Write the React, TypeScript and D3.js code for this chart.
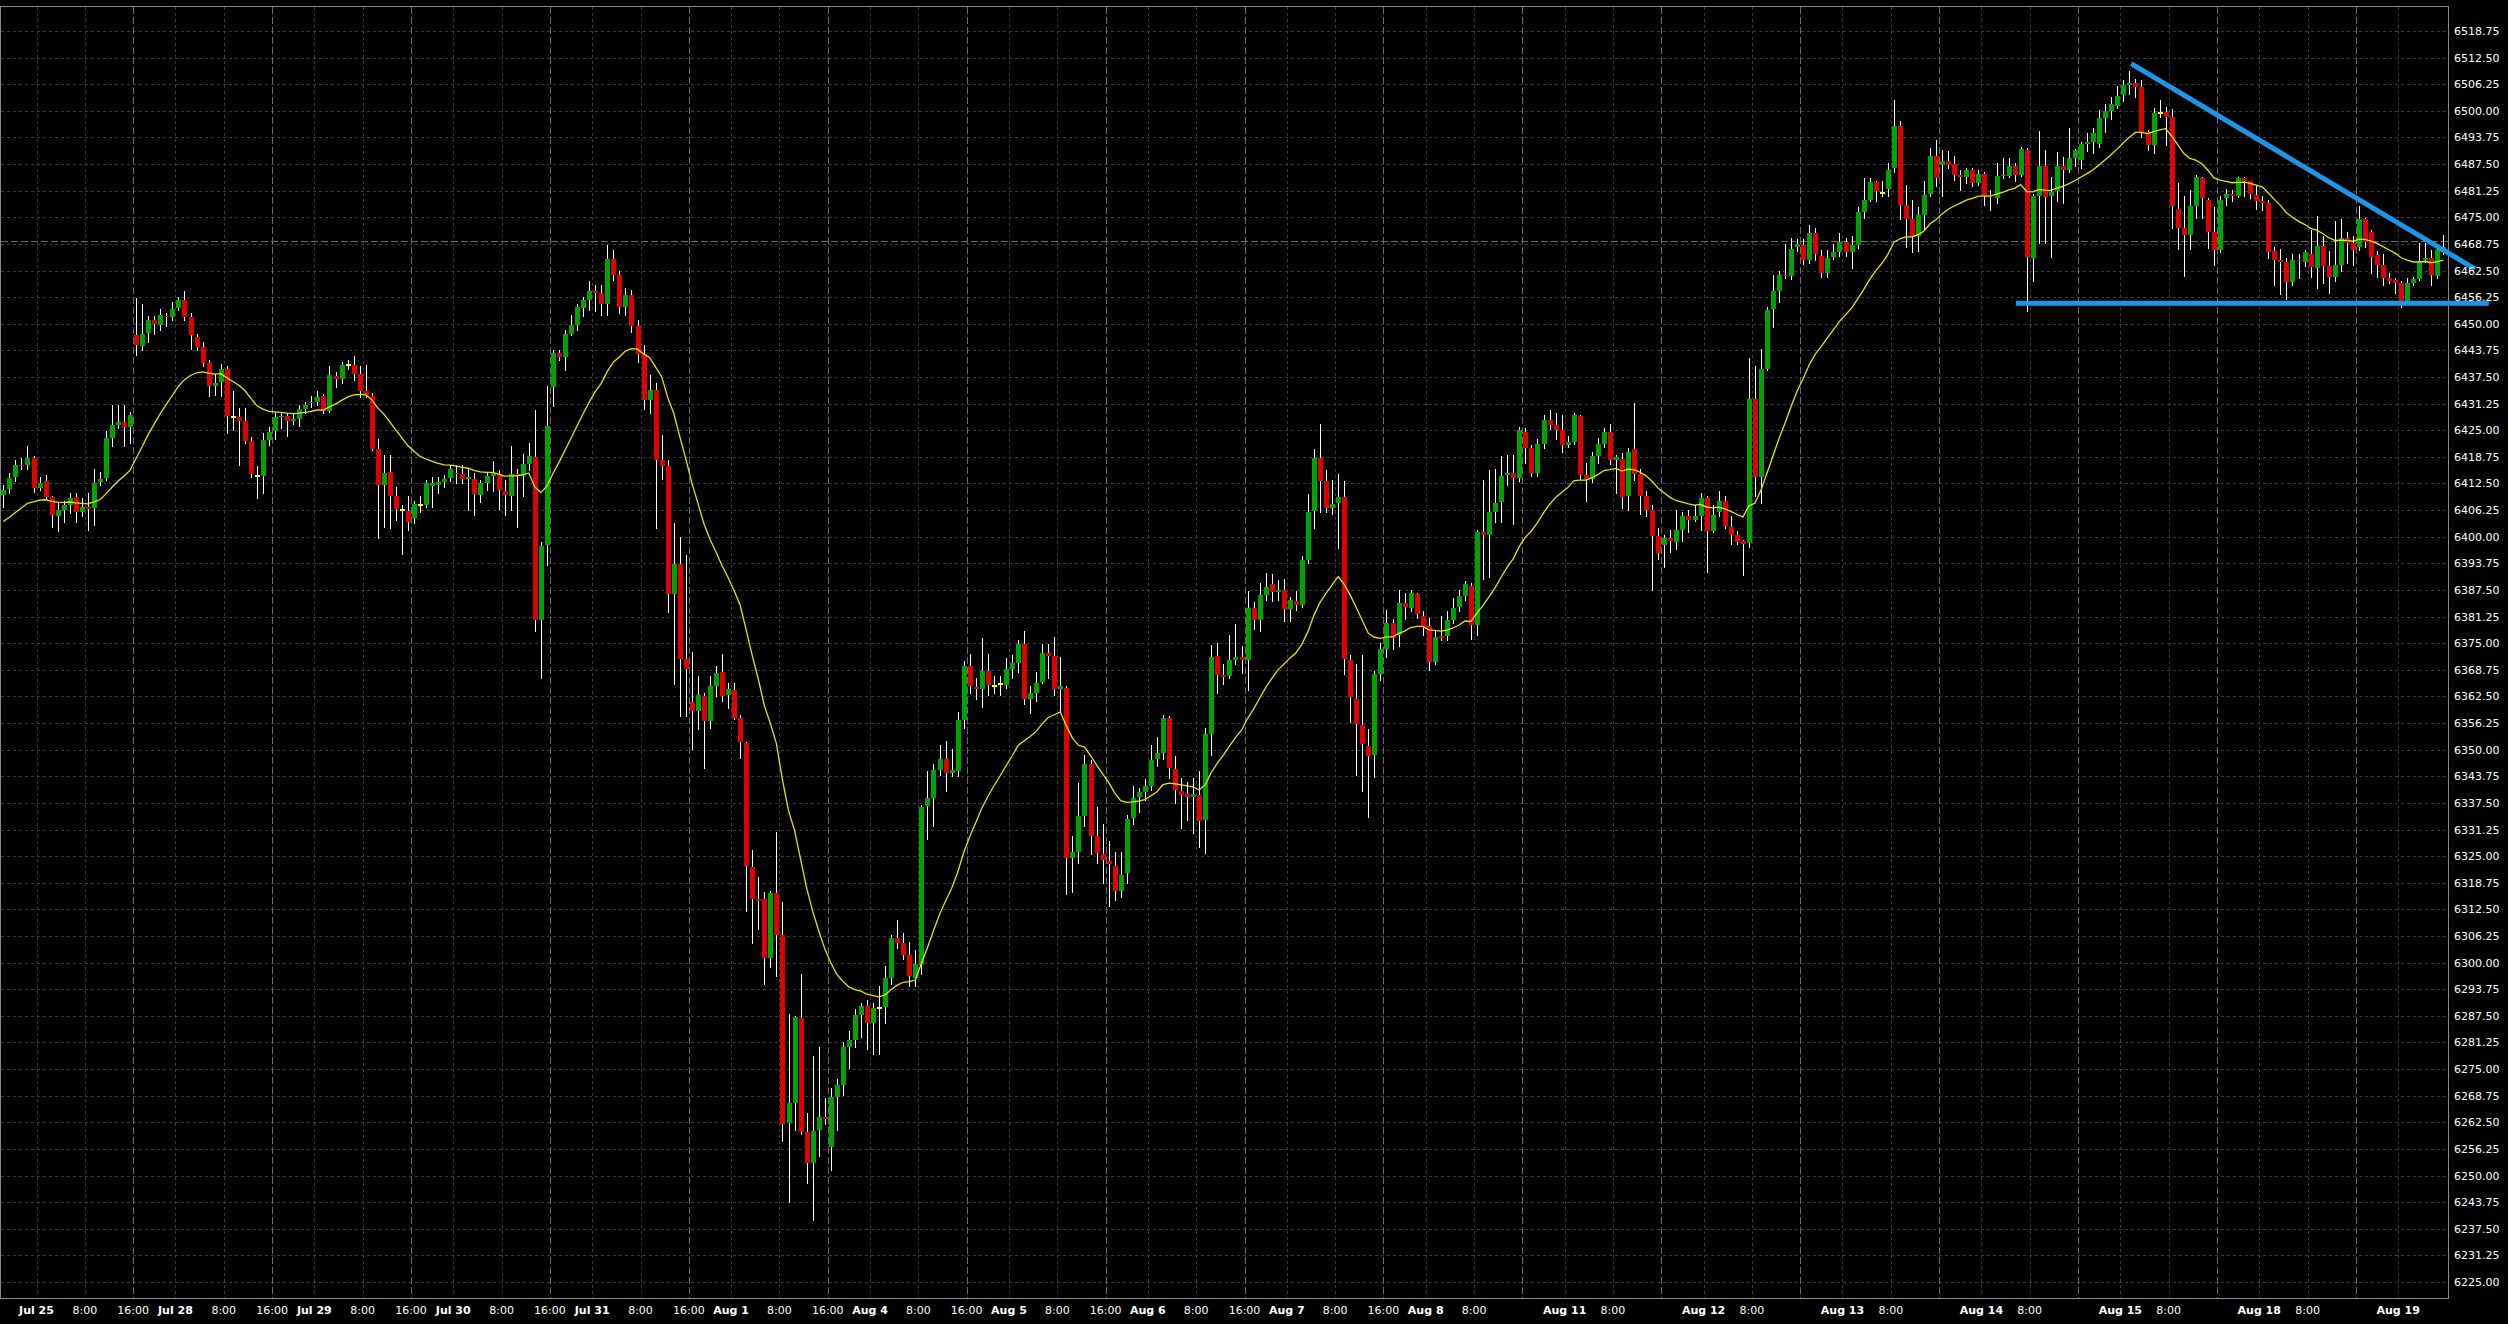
import React, { useEffect } from "react";
import * as d3 from "d3";

// ---- OHLC data (hourly bars, first bar = Jul 24 evening) ----
const OPEN = [
  6409.75, 6411.25, 6414.0, 6416.75, 6416.75, 6418.5, 6411.5, 6413.0, 6409.25, 6404.75,
  6406.25, 6407.5, 6409.25, 6405.75, 6407.0, 6406.75, 6412.75, 6413.75, 6423.25, 6426.25,
  6427.0, 6425.75, 6447.25, 6444.75, 6447.75, 6451.0, 6449.75, 6451.75, 6451.5, 6453.75,
  6455.5, 6451.5, 6447.0, 6444.5, 6440.75, 6435.5, 6436.25, 6439.5, 6428.0, 6428.0,
  6427.25, 6422.5, 6414.25, 6414.25, 6422.75, 6424.75, 6428.0, 6428.25, 6427.25, 6427.75,
  6430.0, 6431.5, 6431.75, 6433.0, 6429.5, 6437.75, 6437.0, 6440.25, 6440.25, 6438.25,
  6434.25, 6433.0, 6420.5, 6412.25, 6415.25, 6409.5, 6406.25, 6406.0, 6404.5, 6407.5,
  6407.5, 6412.0, 6412.25, 6412.75, 6413.75, 6415.0, 6414.75, 6413.5, 6413.5, 6409.75,
  6412.5, 6414.25, 6414.75, 6410.75, 6409.5, 6414.75, 6414.25, 6417.0, 6418.75, 6380.5,
  6398.0, 6435.25, 6443.25, 6442.25, 6447.5, 6449.75, 6453.75, 6455.5, 6457.75, 6457.25,
  6454.75, 6465.25, 6461.5, 6454.0, 6456.75, 6449.5, 6443.0, 6432.0, 6434.5, 6418.0,
  6416.5, 6386.5, 6393.5, 6371.25, 6361.25, 6359.0, 6362.5, 6356.75, 6365.0, 6368.25,
  6362.75, 6364.0, 6357.5, 6351.5, 6322.5, 6315.0, 6315.0, 6301.0, 6316.25, 6306.5,
  6262.25, 6267.0, 6287.0, 6260.25, 6253.0, 6260.75, 6263.75, 6256.75, 6268.5, 6271.25,
  6280.25, 6281.75, 6287.75, 6289.75, 6285.75, 6289.25, 6289.5, 6296.5, 6305.75, 6304.5,
  6301.75, 6296.5, 6299.5, 6336.75, 6338.75, 6345.25, 6347.75, 6344.5, 6345.0, 6357.0,
  6369.75, 6364.75, 6364.25, 6368.5, 6365.0, 6365.5, 6365.25, 6369.0, 6370.25, 6374.75,
  6362.0, 6363.25, 6366.0, 6372.75, 6372.0, 6364.25, 6364.5, 6324.5, 6326.0, 6334.5,
  6346.75, 6329.75, 6325.5, 6323.75, 6322.75, 6316.75, 6321.0, 6334.0, 6339.0, 6340.0,
  6341.5, 6347.75, 6349.25, 6357.5, 6345.5, 6340.25, 6339.5, 6339.0, 6339.25, 6333.5,
  6353.75, 6372.0, 6367.5, 6367.25, 6371.0, 6371.75, 6371.0, 6383.25, 6380.5, 6386.25,
  6389.0, 6387.0, 6387.5, 6383.0, 6385.0, 6384.0, 6394.5, 6406.0, 6418.5, 6413.0,
  6406.75, 6408.0, 6409.25, 6371.0, 6362.0, 6355.75, 6350.75, 6348.75, 6367.75, 6373.75,
  6379.75, 6377.0, 6384.5, 6383.25, 6386.5, 6381.5, 6379.0, 6370.5, 6376.75, 6376.75,
  6380.5, 6383.5, 6386.0, 6388.5, 6379.25, 6401.0, 6400.5, 6405.75, 6408.25, 6414.5,
  6415.0, 6413.75, 6424.5, 6420.75, 6415.0, 6421.75, 6427.5, 6426.25, 6425.0, 6421.5,
  6422.25, 6428.25, 6414.5, 6413.5, 6419.0, 6421.75, 6424.5, 6418.0, 6418.25, 6409.5,
  6420.5, 6414.75, 6409.5, 6406.25, 6400.25, 6398.0, 6399.75, 6398.75, 6401.5, 6404.75,
  6404.0, 6404.75, 6409.0, 6401.25, 6405.75, 6408.5, 6402.25, 6400.5, 6399.0, 6398.5,
  6432.25, 6414.0, 6439.5, 6453.5, 6457.75, 6461.5, 6461.25, 6468.0, 6468.5, 6465.0,
  6471.25, 6466.0, 6462.0, 6465.75, 6466.75, 6469.25, 6466.75, 6468.5, 6476.25, 6479.0,
  6483.25, 6480.75, 6481.75, 6486.5, 6496.5, 6478.0, 6474.5, 6470.5, 6475.5, 6480.5,
  6489.5, 6487.25, 6488.25, 6487.5, 6485.0, 6484.5, 6486.0, 6483.0, 6485.25, 6480.25,
  6479.5, 6484.75, 6484.75, 6487.0, 6485.0, 6490.75, 6465.5, 6480.0, 6487.0, 6480.0,
  6481.25, 6487.0, 6486.0, 6489.0, 6488.5, 6492.25, 6492.75, 6492.25, 6498.25, 6500.0,
  6501.25, 6503.75, 6506.0, 6506.5, 6505.5, 6495.0, 6492.0, 6499.5, 6499.75, 6498.5,
  6477.0, 6472.5, 6470.75, 6477.75, 6484.25, 6479.0, 6471.5, 6467.25, 6479.5, 6480.5,
  6480.0, 6484.25, 6483.5, 6480.25, 6478.75, 6478.25, 6467.0, 6465.0, 6464.5, 6459.75,
  6465.0, 6464.5, 6466.5, 6463.0, 6468.25, 6463.5, 6461.0, 6463.75, 6470.25, 6469.0,
  6468.0, 6474.5, 6471.5, 6466.25, 6463.75, 6460.75, 6460.25, 6459.5, 6455.25, 6459.5,
  6460.5, 6465.0, 6465.5, 6461.25, 6467.25,
];

const HIGH = [
  6412.25, 6415.0, 6418.0, 6418.5, 6421.25, 6419.0, 6414.0, 6414.5, 6409.5, 6408.25,
  6408.5, 6410.25, 6410.25, 6409.0, 6410.25, 6416.0, 6415.25, 6424.75, 6431.0, 6431.0,
  6431.0, 6429.25, 6456.0, 6454.75, 6451.75, 6451.75, 6453.5, 6452.5, 6455.0, 6456.25,
  6457.75, 6452.5, 6447.5, 6445.75, 6441.5, 6438.25, 6440.5, 6440.0, 6434.25, 6430.25,
  6430.25, 6423.5, 6416.5, 6424.25, 6425.75, 6429.25, 6429.25, 6429.0, 6429.0, 6431.0,
  6431.75, 6433.0, 6434.25, 6433.5, 6440.0, 6438.75, 6441.0, 6441.5, 6442.5, 6440.0,
  6440.25, 6433.75, 6423.0, 6419.25, 6419.25, 6411.75, 6407.5, 6409.5, 6408.5, 6409.5,
  6413.25, 6414.0, 6414.0, 6414.5, 6416.75, 6416.75, 6416.75, 6416.0, 6415.0, 6413.25,
  6415.0, 6417.75, 6415.75, 6413.25, 6421.25, 6416.0, 6419.5, 6422.0, 6429.75, 6398.75,
  6435.5, 6443.75, 6443.75, 6448.5, 6452.0, 6454.75, 6456.25, 6460.0, 6459.0, 6459.0,
  6468.5, 6467.25, 6462.5, 6458.5, 6458.0, 6451.0, 6445.0, 6438.0, 6436.0, 6424.0,
  6418.0, 6403.25, 6400.0, 6395.75, 6373.0, 6367.25, 6363.25, 6367.25, 6369.75, 6372.5,
  6365.75, 6365.75, 6358.25, 6351.75, 6326.5, 6320.0, 6316.5, 6316.75, 6330.75, 6314.25,
  6288.0, 6287.5, 6297.25, 6264.75, 6278.0, 6280.25, 6268.25, 6270.5, 6272.75, 6281.25,
  6284.0, 6289.0, 6290.5, 6291.25, 6290.5, 6294.5, 6299.25, 6306.5, 6310.0, 6307.0,
  6304.75, 6303.0, 6337.0, 6345.0, 6346.75, 6351.0, 6352.0, 6350.25, 6358.75, 6370.75,
  6372.5, 6366.75, 6376.25, 6372.5, 6367.25, 6367.25, 6371.5, 6372.25, 6375.75, 6377.75,
  6365.0, 6368.25, 6374.75, 6374.75, 6376.5, 6371.75, 6365.0, 6329.75, 6342.25, 6348.75,
  6347.5, 6336.5, 6332.5, 6328.5, 6326.0, 6326.0, 6334.75, 6341.5, 6341.0, 6343.0,
  6351.0, 6353.0, 6358.25, 6358.0, 6348.5, 6343.25, 6342.5, 6343.25, 6345.0, 6355.0,
  6374.5, 6375.0, 6370.0, 6377.0, 6379.5, 6374.25, 6387.25, 6384.75, 6389.25, 6391.5,
  6391.25, 6389.75, 6390.0, 6385.75, 6387.25, 6395.5, 6410.0, 6420.5, 6426.5, 6415.75,
  6413.25, 6414.75, 6413.0, 6372.25, 6370.0, 6372.25, 6354.75, 6368.5, 6375.0, 6382.75,
  6380.75, 6387.5, 6386.75, 6387.5, 6386.75, 6382.5, 6381.0, 6377.75, 6381.5, 6382.5,
  6385.5, 6387.5, 6389.5, 6389.25, 6401.5, 6413.25, 6415.75, 6416.0, 6419.0, 6419.25,
  6419.25, 6425.75, 6425.5, 6421.5, 6423.0, 6428.5, 6429.75, 6429.0, 6428.5, 6423.75,
  6429.0, 6428.5, 6417.25, 6420.0, 6423.25, 6425.5, 6426.5, 6419.25, 6419.75, 6420.75,
  6431.5, 6416.0, 6410.75, 6407.5, 6402.0, 6400.5, 6401.5, 6406.25, 6405.75, 6406.25,
  6407.5, 6410.25, 6409.5, 6407.5, 6410.75, 6409.5, 6404.75, 6401.25, 6399.25, 6442.0,
  6440.0, 6444.0, 6454.0, 6461.5, 6462.5, 6468.75, 6470.25, 6470.0, 6470.0, 6473.25,
  6472.5, 6467.25, 6467.25, 6468.75, 6471.25, 6470.25, 6470.5, 6477.5, 6484.25, 6484.25,
  6483.5, 6483.5, 6487.75, 6502.5, 6497.5, 6482.5, 6479.0, 6477.5, 6483.5, 6491.25,
  6493.25, 6490.75, 6490.5, 6489.5, 6486.0, 6486.5, 6486.5, 6486.0, 6485.75, 6481.5,
  6487.75, 6489.0, 6489.0, 6487.75, 6491.5, 6491.25, 6480.5, 6495.25, 6490.75, 6484.5,
  6490.25, 6489.25, 6496.0, 6491.0, 6492.75, 6494.75, 6496.0, 6500.25, 6501.5, 6503.25,
  6505.75, 6507.25, 6509.25, 6507.5, 6507.25, 6495.5, 6500.75, 6502.5, 6501.0, 6500.5,
  6483.0, 6480.0, 6481.5, 6485.0, 6484.5, 6479.5, 6477.5, 6480.0, 6481.75, 6481.5,
  6484.5, 6484.5, 6483.5, 6482.25, 6480.0, 6479.0, 6468.0, 6467.5, 6465.5, 6466.5,
  6466.5, 6467.25, 6472.0, 6475.25, 6470.5, 6467.0, 6474.25, 6474.5, 6471.5, 6470.5,
  6477.75, 6474.75, 6472.0, 6467.0, 6466.5, 6462.0, 6460.75, 6460.0, 6460.75, 6461.0,
  6469.0, 6469.0, 6467.25, 6468.5, 6470.75,
];

const LOW = [
  6407.0, 6410.25, 6413.0, 6416.0, 6416.0, 6410.5, 6411.0, 6408.75, 6402.25, 6401.25,
  6403.5, 6405.5, 6403.5, 6404.75, 6401.5, 6402.75, 6412.25, 6413.25, 6421.25, 6425.5,
  6421.25, 6422.0, 6442.75, 6443.75, 6445.75, 6447.5, 6448.5, 6449.5, 6451.0, 6453.25,
  6451.0, 6444.0, 6443.75, 6440.0, 6433.0, 6433.25, 6433.0, 6424.25, 6425.0, 6416.75,
  6422.0, 6414.0, 6409.0, 6410.25, 6421.5, 6423.0, 6425.5, 6423.75, 6426.5, 6426.0,
  6429.0, 6430.5, 6431.0, 6429.0, 6429.25, 6435.25, 6436.0, 6439.5, 6436.75, 6432.75,
  6432.75, 6420.25, 6399.75, 6402.25, 6402.0, 6404.0, 6396.0, 6401.5, 6403.25, 6405.75,
  6407.0, 6407.0, 6410.25, 6411.75, 6413.0, 6412.5, 6412.5, 6406.25, 6405.0, 6408.25,
  6411.0, 6410.75, 6406.5, 6405.0, 6406.25, 6402.25, 6409.5, 6415.75, 6377.75, 6366.75,
  6393.25, 6430.75, 6441.5, 6439.25, 6447.25, 6448.5, 6451.75, 6453.25, 6453.0, 6452.0,
  6452.0, 6460.25, 6452.5, 6452.0, 6448.0, 6441.0, 6430.0, 6429.0, 6402.0, 6413.5,
  6382.25, 6365.5, 6358.0, 6358.0, 6350.25, 6354.75, 6345.75, 6355.0, 6362.5, 6361.5,
  6359.75, 6357.25, 6348.0, 6312.0, 6304.5, 6308.0, 6295.0, 6299.0, 6296.75, 6258.0,
  6243.75, 6260.75, 6259.75, 6248.25, 6239.5, 6254.5, 6262.0, 6251.25, 6260.75, 6269.0,
  6275.25, 6280.25, 6282.5, 6279.75, 6278.5, 6278.5, 6285.75, 6295.0, 6303.5, 6300.75,
  6294.5, 6294.5, 6297.25, 6329.0, 6332.0, 6344.0, 6340.25, 6343.75, 6343.75, 6355.0,
  6363.25, 6362.0, 6360.0, 6362.75, 6363.25, 6362.75, 6364.5, 6366.75, 6368.25, 6360.75,
  6358.5, 6361.5, 6365.75, 6366.75, 6362.75, 6358.75, 6316.0, 6316.5, 6323.5, 6332.0,
  6325.5, 6323.5, 6318.75, 6313.25, 6314.75, 6315.5, 6318.75, 6332.5, 6335.25, 6338.25,
  6340.5, 6346.25, 6347.75, 6343.25, 6337.5, 6331.5, 6333.5, 6330.5, 6327.25, 6325.75,
  6348.75, 6363.25, 6365.5, 6366.75, 6370.0, 6368.0, 6364.0, 6378.25, 6377.75, 6385.25,
  6385.0, 6385.25, 6380.25, 6380.25, 6382.75, 6383.5, 6393.75, 6402.0, 6405.75, 6405.75,
  6405.25, 6397.25, 6367.75, 6356.5, 6344.0, 6340.25, 6334.25, 6343.5, 6366.25, 6371.75,
  6373.75, 6374.25, 6380.75, 6382.5, 6381.0, 6377.0, 6368.75, 6370.0, 6375.75, 6375.75,
  6379.75, 6382.5, 6385.25, 6376.0, 6377.0, 6390.0, 6390.5, 6403.5, 6403.5, 6412.25,
  6403.0, 6413.0, 6417.25, 6414.25, 6414.25, 6420.75, 6425.25, 6423.0, 6420.0, 6421.0,
  6421.75, 6413.5, 6408.5, 6412.75, 6417.25, 6421.0, 6417.0, 6410.25, 6406.75, 6406.25,
  6413.25, 6405.25, 6404.75, 6387.5, 6394.75, 6393.0, 6396.5, 6397.0, 6399.0, 6401.0,
  6403.75, 6401.5, 6391.75, 6401.0, 6404.75, 6402.0, 6398.25, 6398.25, 6391.0, 6397.5,
  6409.5, 6408.0, 6439.25, 6449.25, 6455.0, 6460.75, 6460.5, 6467.0, 6464.0, 6464.25,
  6465.0, 6461.0, 6461.0, 6465.25, 6466.0, 6466.0, 6463.0, 6467.75, 6474.75, 6478.75,
  6478.75, 6480.0, 6480.0, 6485.75, 6474.5, 6468.0, 6466.75, 6467.0, 6472.0, 6480.0,
  6482.25, 6480.0, 6486.5, 6483.75, 6481.5, 6483.0, 6482.25, 6482.5, 6478.0, 6476.75,
  6478.25, 6484.25, 6484.5, 6483.5, 6484.75, 6453.0, 6460.0, 6469.0, 6469.0, 6465.75,
  6478.75, 6478.25, 6485.75, 6487.0, 6486.5, 6490.5, 6490.0, 6491.5, 6495.0, 6498.0,
  6500.75, 6502.25, 6504.0, 6503.25, 6493.75, 6490.75, 6490.0, 6498.5, 6492.0, 6472.5,
  6467.5, 6461.25, 6467.5, 6474.75, 6474.75, 6467.75, 6463.75, 6466.75, 6478.0, 6478.75,
  6479.75, 6480.0, 6479.5, 6477.0, 6476.75, 6465.5, 6459.0, 6457.0, 6455.75, 6459.0,
  6460.75, 6463.5, 6461.0, 6458.5, 6459.5, 6457.25, 6460.0, 6462.5, 6464.25, 6463.75,
  6467.25, 6468.0, 6462.0, 6461.0, 6459.0, 6459.5, 6457.25, 6454.0, 6454.75, 6459.0,
  6460.25, 6464.5, 6459.0, 6460.75, 6466.5,
];

const CLOSE = [
  6411.0, 6413.75, 6416.75, 6416.5, 6418.5, 6411.5, 6412.5, 6409.25, 6405.0, 6406.25,
  6407.5, 6409.0, 6405.75, 6407.0, 6406.5, 6412.5, 6413.5, 6423.25, 6426.25, 6427.0,
  6425.75, 6428.5, 6445.0, 6447.5, 6451.0, 6450.0, 6452.0, 6451.5, 6453.5, 6455.5,
  6451.5, 6447.25, 6444.5, 6440.75, 6435.5, 6436.0, 6439.5, 6428.25, 6428.0, 6427.25,
  6422.5, 6414.75, 6414.25, 6422.75, 6424.5, 6428.0, 6428.25, 6427.25, 6427.75, 6430.0,
  6431.0, 6431.75, 6432.75, 6429.5, 6438.0, 6437.0, 6440.25, 6440.25, 6438.25, 6434.25,
  6433.0, 6420.5, 6412.25, 6415.0, 6409.5, 6406.5, 6406.25, 6403.5, 6407.75, 6407.5,
  6412.5, 6412.5, 6412.75, 6413.5, 6416.0, 6414.75, 6413.5, 6414.0, 6410.0, 6412.5,
  6414.25, 6415.0, 6411.0, 6409.75, 6414.75, 6414.25, 6417.0, 6419.0, 6380.5, 6397.75,
  6426.0, 6443.25, 6442.25, 6447.5, 6449.75, 6454.0, 6455.5, 6457.75, 6457.25, 6454.75,
  6465.25, 6461.5, 6454.0, 6456.75, 6449.5, 6443.0, 6432.0, 6434.5, 6418.0, 6416.5,
  6386.5, 6393.5, 6371.25, 6369.0, 6359.0, 6362.75, 6356.75, 6365.0, 6368.0, 6362.5,
  6364.25, 6357.5, 6351.75, 6322.75, 6315.0, 6314.5, 6301.0, 6316.25, 6306.5, 6262.0,
  6267.0, 6287.25, 6260.25, 6253.0, 6260.5, 6263.75, 6263.25, 6268.5, 6271.25, 6280.25,
  6281.75, 6287.75, 6289.75, 6285.75, 6289.25, 6289.25, 6296.5, 6305.75, 6304.5, 6301.75,
  6296.75, 6299.75, 6336.5, 6338.75, 6345.25, 6347.75, 6344.5, 6345.25, 6357.0, 6369.75,
  6365.0, 6364.25, 6368.5, 6365.25, 6365.0, 6365.5, 6369.0, 6370.25, 6374.75, 6362.0,
  6363.25, 6365.75, 6372.75, 6372.0, 6364.25, 6365.0, 6324.5, 6326.0, 6334.5, 6346.75,
  6329.75, 6325.75, 6324.0, 6323.25, 6316.75, 6320.5, 6333.75, 6338.75, 6340.0, 6341.5,
  6347.5, 6349.25, 6357.5, 6345.75, 6340.5, 6339.25, 6339.0, 6339.5, 6333.25, 6353.75,
  6371.75, 6367.5, 6367.0, 6371.0, 6371.75, 6371.0, 6383.25, 6380.5, 6386.25, 6388.25,
  6387.0, 6387.5, 6383.0, 6385.25, 6384.0, 6394.5, 6405.75, 6418.5, 6413.0, 6406.75,
  6407.75, 6409.25, 6371.25, 6362.25, 6356.0, 6351.25, 6348.5, 6367.75, 6373.75, 6379.75,
  6376.25, 6384.5, 6383.5, 6386.75, 6381.75, 6378.75, 6370.5, 6376.5, 6376.25, 6380.5,
  6383.25, 6386.0, 6389.0, 6379.25, 6401.0, 6400.5, 6405.75, 6408.0, 6414.25, 6415.0,
  6413.75, 6425.0, 6420.75, 6415.0, 6421.75, 6427.5, 6426.25, 6425.0, 6421.5, 6422.25,
  6428.5, 6414.5, 6413.5, 6419.0, 6421.75, 6424.5, 6418.0, 6418.75, 6409.25, 6420.0,
  6414.75, 6409.5, 6406.25, 6400.25, 6396.25, 6399.75, 6399.0, 6401.5, 6404.75, 6404.0,
  6404.75, 6409.0, 6401.25, 6405.0, 6408.5, 6402.5, 6400.5, 6398.75, 6398.25, 6432.25,
  6414.0, 6439.5, 6453.25, 6457.75, 6461.5, 6461.25, 6467.5, 6468.75, 6465.0, 6471.25,
  6466.5, 6462.0, 6465.5, 6466.75, 6469.25, 6466.75, 6468.5, 6476.25, 6479.0, 6483.25,
  6481.25, 6480.75, 6486.0, 6496.5, 6478.0, 6474.5, 6470.5, 6475.5, 6480.25, 6489.5,
  6484.25, 6488.25, 6487.25, 6485.0, 6484.5, 6486.0, 6483.0, 6485.25, 6480.0, 6480.0,
  6484.75, 6485.0, 6487.0, 6485.0, 6491.0, 6465.75, 6480.0, 6487.0, 6479.75, 6481.0,
  6487.0, 6486.0, 6489.0, 6490.75, 6492.25, 6492.75, 6494.75, 6498.25, 6500.0, 6501.5,
  6503.5, 6506.0, 6506.5, 6505.5, 6495.0, 6492.0, 6499.5, 6499.5, 6498.5, 6477.75,
  6472.5, 6470.75, 6477.75, 6484.5, 6479.5, 6471.5, 6467.25, 6479.0, 6480.5, 6480.0,
  6484.25, 6483.5, 6480.5, 6478.75, 6478.25, 6466.75, 6465.0, 6464.5, 6459.75, 6465.0,
  6464.75, 6466.75, 6463.25, 6468.25, 6463.5, 6461.0, 6463.75, 6470.25, 6469.0, 6467.25,
  6474.5, 6469.25, 6465.75, 6463.75, 6460.75, 6460.0, 6459.5, 6455.25, 6459.5, 6460.5,
  6464.75, 6465.5, 6461.5, 6467.25, 6468.0,
];

// ---- axis / indicator / drawing definitions ----
const DAY_LABELS = [
  "Jul 25", "Jul 28", "Jul 29", "Jul 30", "Jul 31", "Aug 1", "Aug 4", "Aug 5", "Aug 6",
  "Aug 7", "Aug 8", "Aug 11", "Aug 12", "Aug 13", "Aug 14", "Aug 15", "Aug 18", "Aug 19",
];
const HOUR_LABELS = ["8:00", "16:00"];
const HOUR_OFFSETS = [8, 16];
const FIRST_DAY_BAR = 6;
const BARS_PER_DAY = 23;
const LAST_DAY_WITH_16 = 9; // 16:00 label shown up to "Aug 7"

const PRICE_MIN = 6225;
const PRICE_MAX = 6518.75;
const PRICE_STEP = 6.25;

const MA_PERIOD = 20;
const MA_SEED = 6402.8;
const PRICE_LINE = 6469.5;

const TREND_LINE = [[352.3, 6511.1], [409.2, 6462.9]];
const SUPPORT_LINE = [[333.2, 6454.8], [411.5, 6454.8]];

const W = 2508;
const H = 1324;
const PLOT_L = 0.5;
const PLOT_R = 2448.5;
const PLOT_T = 6.5;
const PLOT_B = 1298.5;

const FONT = "'DejaVu Sans', Verdana, sans-serif";

export default function App() {
  useEffect(() => {
    document.body.style.margin = "0";
    document.body.style.background = "#000";
  }, []);

  const n = CLOSE.length;
  const x = d3.scaleLinear().domain([0, n - 1]).range([3.3, 3.3 + 6.04 * (n - 1)]);
  const y = d3.scaleLinear().domain([PRICE_MIN, PRICE_MAX]).range([1282, 31]);

  const yTicks = d3.range(PRICE_MIN, PRICE_MAX + 0.001, PRICE_STEP);

  // EMA
  const alpha = 2 / (MA_PERIOD + 1);
  let prev = MA_SEED;
  const ma = CLOSE.map((c) => (prev = prev + alpha * (c - prev)));
  const maPath = d3
    .line<number>()
    .x((_, i) => x(i))
    .y((v) => y(v))(ma) as string;

  // vertical grid & labels
  const vLines: { x: number; bright: boolean }[] = [];
  const xLabels: { x: number; text: string; bold: boolean }[] = [];
  DAY_LABELS.forEach((lab, k) => {
    const s0 = FIRST_DAY_BAR + BARS_PER_DAY * k;
    const gx = x(s0 - 0.5);
    vLines.push({ x: gx, bright: false });
    xLabels.push({ x: gx, text: lab, bold: true });
    HOUR_OFFSETS.forEach((off, j) => {
      const hx = x(s0 + off - 0.5);
      if (hx < PLOT_R - 4) {
        vLines.push({ x: hx, bright: off === 16 });
        if (!(off === 16 && k > LAST_DAY_WITH_16) && hx < PLOT_R - 10) {
          xLabels.push({ x: hx, text: HOUR_LABELS[j], bold: false });
        }
      }
    });
  });

  const snap = (v: number) => Math.round(v) + 0.5;

  const candles = CLOSE.map((c, i) => {
    const o = OPEN[i];
    const cx = Math.round(x(i));
    const hi = Math.max(HIGH[i], o, c);
    const lo = Math.min(LOW[i], o, c);
    const yH = y(hi);
    const yL = y(lo);
    const wick = (
      <line
        key={"w" + i}
        x1={cx + 0.5}
        x2={cx + 0.5}
        y1={Math.round(yH)}
        y2={Math.round(yL) + 1}
        stroke="#ffffff"
        strokeWidth={1}
      />
    );
    let body;
    if (o === c) {
      body = (
        <rect key={"b" + i} x={cx - 2} y={Math.round(y(c)) - 1} width={5} height={2} fill="#ffff00" />
      );
    } else {
      const yTop = Math.round(y(Math.max(o, c)));
      const yBot = Math.round(y(Math.min(o, c)));
      body = (
        <rect
          key={"b" + i}
          x={cx - 2}
          y={yTop}
          width={5}
          height={Math.max(1, yBot - yTop)}
          fill={c > o ? "#00a400" : "#e00000"}
        />
      );
    }
    return (
      <g key={i}>
        {wick}
        {body}
      </g>
    );
  });

  return (
    <svg
      width={W}
      height={H}
      style={{ position: "absolute", left: 0, top: 0, display: "block" }}
      shapeRendering="crispEdges"
    >
      <rect x={0} y={0} width={W} height={H} fill="#000" />

      {/* horizontal grid */}
      {yTicks.map((v) => (
        <line
          key={"hg" + v}
          x1={PLOT_L}
          x2={PLOT_R}
          y1={snap(y(v))}
          y2={snap(y(v))}
          stroke="#3a3a3a"
          strokeDasharray="3,3"
        />
      ))}
      {/* vertical grid */}
      {vLines.map((v, i) => (
        <line
          key={"vg" + i}
          x1={snap(v.x)}
          x2={snap(v.x)}
          y1={PLOT_T}
          y2={PLOT_B}
          stroke={v.bright ? "#6a6a6a" : "#3a3a3a"}
          strokeDasharray={v.bright ? "7,3" : "3,3"}
        />
      ))}
      {/* price line */}
      <line
        x1={PLOT_L}
        x2={PLOT_R}
        y1={snap(y(PRICE_LINE))}
        y2={snap(y(PRICE_LINE))}
        stroke="#6a6a6a"
        strokeDasharray="7,3"
      />

      {candles}

      <path d={maPath} fill="none" stroke="#e6e600" strokeWidth={1.3} shapeRendering="auto" />

      {/* frame */}
      <rect
        x={PLOT_L}
        y={PLOT_T}
        width={PLOT_R - PLOT_L}
        height={PLOT_B - PLOT_T}
        fill="none"
        stroke="#8a8a8a"
        strokeWidth={1}
      />

      {/* user drawn lines */}
      <line
        x1={x(TREND_LINE[0][0])}
        y1={y(TREND_LINE[0][1])}
        x2={x(TREND_LINE[1][0])}
        y2={y(TREND_LINE[1][1])}
        stroke="#1e96e8"
        strokeWidth={5}
        shapeRendering="auto"
      />
      <line
        x1={x(SUPPORT_LINE[0][0])}
        y1={y(SUPPORT_LINE[0][1])}
        x2={x(SUPPORT_LINE[1][0])}
        y2={y(SUPPORT_LINE[1][1])}
        stroke="#1e96e8"
        strokeWidth={5}
        shapeRendering="auto"
      />

      {/* y labels */}
      {yTicks.map((v) => (
        <text
          key={"yl" + v}
          x={2454}
          y={y(v) + 4}
          fill="#ffffff"
          fontFamily={FONT}
          fontSize={11}
          shapeRendering="auto"
        >
          {v.toFixed(2)}
        </text>
      ))}
      {/* x labels */}
      {xLabels.map((l, i) => (
        <text
          key={"xl" + i}
          x={l.x}
          y={1314}
          fill="#ffffff"
          fontFamily={FONT}
          fontSize={11}
          fontWeight={l.bold ? "bold" : "normal"}
          textAnchor="middle"
        >
          {l.text}
        </text>
      ))}
    </svg>
  );
}
